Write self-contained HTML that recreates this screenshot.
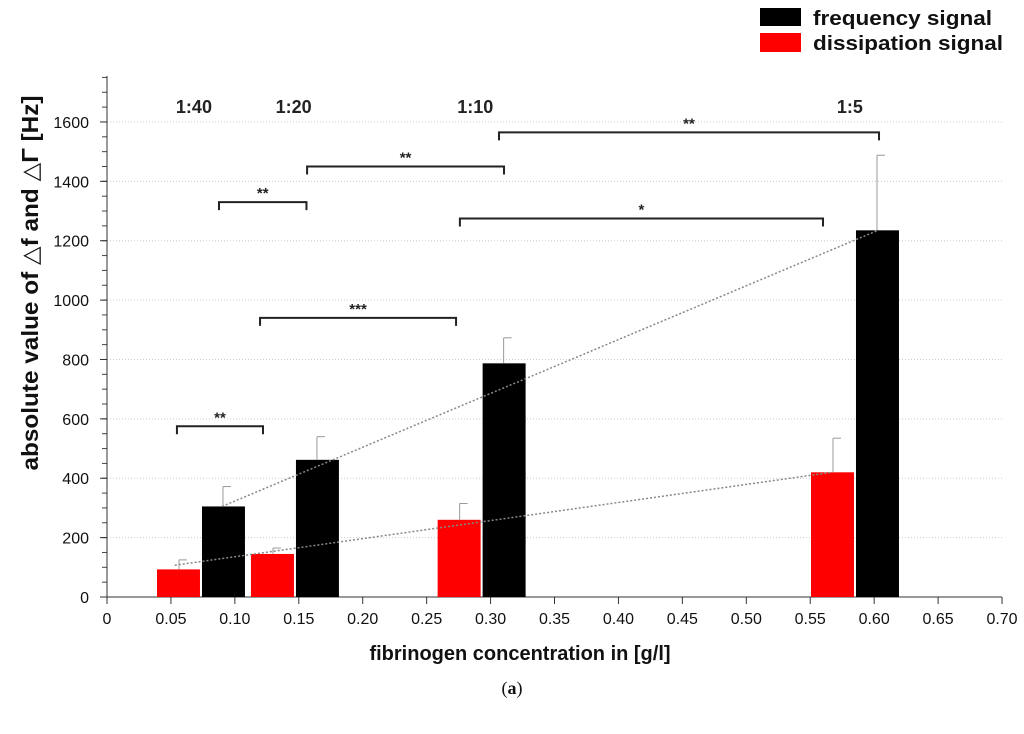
<!DOCTYPE html>
<html><head><meta charset="utf-8"><style>
body{margin:0;background:#fff;}
svg{display:block;font-family:"Liberation Sans",Arial,sans-serif;}
</style></head><body>
<svg id="chart" width="1024" height="734" viewBox="0 0 1024 734"></svg>
<script>
const concentrations=[0.0735,0.147,0.293,0.585];
const ratioLabels=["1:40","1:20","1:10","1:5"];
const ratioPositions=[0.068,0.146,0.288,0.581];
const freqValues=[305,462,787,1235];
const freqErr=[67,78,86,253];
const dissValues=[93,145,260,420];
const dissErr=[32,20,55,115];
const yTicks=[0,200,400,600,800,1000,1200,1400,1600];
const xTicks=[0,0.05,0.10,0.15,0.20,0.25,0.30,0.35,0.40,0.45,0.50,0.55,0.60,0.65,0.70];
const xTickLabels=["0","0.05","0.10","0.15","0.20","0.25","0.30","0.35","0.40","0.45","0.50","0.55","0.60","0.65","0.70"];
const brackets=[[0.0547,0.122,575,"**"],[0.0876,0.156,1330,"**"],[0.1565,0.3105,1450,"**"],[0.3066,0.6038,1565,"**"],[0.276,0.560,1275,"*"],[0.1197,0.273,940,"***"]];
const freqTrend=[[0.09,305],[0.603,1235]];
const dissTrend=[[0.053,107],[0.567,420]];

const NS="http://www.w3.org/2000/svg";
const svg=document.getElementById('chart');
const X=v=>107+v*1278.6;
const Y=v=>597-v*0.2969;
const bw=0.0344;
function mk(t,a,txt){const e=document.createElementNS(NS,t);for(const k in a)e.setAttribute(k,a[k]);if(txt!=null)e.textContent=txt;svg.appendChild(e);return e;}

for(let v=50;v<=1750;v+=50){mk('line',{x1:102,x2:107,y1:Y(v),y2:Y(v),stroke:'#444'});}
yTicks.forEach(t=>{
  if(t>0){const g=mk('line',{x1:107,x2:1002,y1:Y(t),y2:Y(t),stroke:'#ccc','stroke-dasharray':'1 2'});
  
  }
  const l=mk('text',{x:89,y:Y(t)+6,'text-anchor':'end','font-size':16,fill:'#111'},t);
  
  
  mk('line',{x1:100,x2:107,y1:Y(t),y2:Y(t),stroke:'#333'});
});
xTicks.forEach((t,i)=>{
  mk('line',{x1:X(t),x2:X(t),y1:597,y2:604,stroke:'#333'});
  const l=mk('text',{x:X(t),y:624,'text-anchor':'middle','font-size':16,fill:'#111'},xTickLabels[i]);
  
  
});
const ya=mk('line',{x1:107,x2:107,y1:76,y2:597,stroke:'#333'});


const xa=mk('line',{x1:107,x2:1002,y1:597,y2:597,stroke:'#333'});



function err(cx,v,e){mk('line',{x1:cx,x2:cx,y1:Y(v),y2:Y(v+e),stroke:'#999'});mk('line',{x1:cx,x2:cx+8,y1:Y(v+e),y2:Y(v+e),stroke:'#999'});}
concentrations.forEach((c,i)=>{
  const r=mk('rect',{x:X(c-bw),y:Y(dissValues[i]),width:X(bw)-X(0)-1,height:Y(0)-Y(dissValues[i]),fill:'#f00'});
  
  
  err(X(c-bw/2),dissValues[i],dissErr[i]);
  const b=mk('rect',{x:X(c)+1,y:Y(freqValues[i]),width:X(bw)-X(0)-1,height:Y(0)-Y(freqValues[i]),fill:'#000'});
  
  
  err(X(c+bw/2),freqValues[i],freqErr[i]);
});
ratioLabels.forEach((s,i)=>{
  const t=mk('text',{x:X(ratioPositions[i]),y:113,'text-anchor':'middle','font-size':18,'font-weight':'bold',fill:'#222'},s);
  
  
});
[freqTrend,dissTrend].forEach(tr=>{
  const l=mk('line',{x1:X(tr[0][0]),y1:Y(tr[0][1]),x2:X(tr[1][0]),y2:Y(tr[1][1]),stroke:'#888','stroke-width':1.5,'stroke-dasharray':'2 2'});
  
  
});
brackets.forEach(b=>{
  const y=Y(b[2]);
  const p=mk('path',{d:`M${X(b[0])},${y+8}V${y}H${X(b[1])}V${y+8}`,fill:'none',stroke:'#222','stroke-width':2});
  
  
  const t=mk('text',{x:(X(b[0])+X(b[1]))/2,y:y-4,'text-anchor':'middle','font-size':15,'font-weight':'bold',fill:'#222'},b[3]);
  
  
});
</script>
<svg style="position:absolute;left:0;top:0" width="1024" height="734">
<g font-family="Liberation Sans, Arial, sans-serif" font-weight="bold" font-size="20">
<rect x="760" y="8" width="41" height="18" fill="#000"/>
<text x="813" y="25" fill="#111" textLength="179" lengthAdjust="spacingAndGlyphs">frequency signal</text>
<rect x="760" y="33" width="41" height="19" fill="#f00"/>
<text x="813" y="50" fill="#111" textLength="190" lengthAdjust="spacingAndGlyphs">dissipation signal</text>
</g>
<text transform="translate(38,283) rotate(-90)" text-anchor="middle" font-family="Liberation Sans, DejaVu Sans, sans-serif" font-weight="bold" font-size="23" fill="#111" textLength="375" lengthAdjust="spacingAndGlyphs">absolute value of △f and △Γ  [Hz]</text>
<text x="520" y="660" text-anchor="middle" font-family="Liberation Sans, Arial, sans-serif" font-weight="bold" font-size="20" fill="#111">fibrinogen concentration in [g/l]</text>
<text x="512" y="694" text-anchor="middle" font-family="Liberation Serif, serif" font-size="18" fill="#111">(<tspan font-weight="bold">a</tspan>)</text>
</svg>
</body></html>
